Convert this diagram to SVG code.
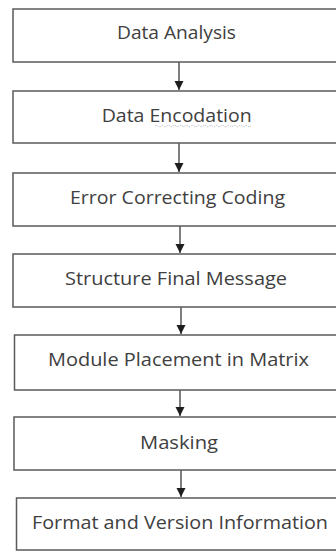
<svg xmlns="http://www.w3.org/2000/svg" width="336" height="552" viewBox="0 0 336 552">
<style>
.box{fill:#ffffff;stroke:#5a5a5a;stroke-width:1.5}
.lbl{font-family:"Open Sans","Noto Sans",sans-serif;font-size:19px;fill:#404040;text-anchor:middle}
.con{stroke:#3a3a3a;stroke-width:1.3;fill:none}
</style>
<defs>
<marker id="ah" markerWidth="9" markerHeight="10" refX="9" refY="4.5" orient="auto" markerUnits="userSpaceOnUse">
<path d="M0,0 L9,4.5 L0,9 z" fill="#1e1e1e"/>
</marker>
</defs>
<rect width="336" height="552" fill="#ffffff"/>
<g id="connectors">
<line class="con" x1="179" y1="62" x2="179" y2="90" marker-end="url(#ah)"/>
<line class="con" x1="179" y1="143" x2="179" y2="172" marker-end="url(#ah)"/>
<line class="con" x1="180" y1="226" x2="180" y2="253" marker-end="url(#ah)"/>
<line class="con" x1="181" y1="307" x2="181" y2="334" marker-end="url(#ah)"/>
<line class="con" x1="180" y1="390" x2="180" y2="416" marker-end="url(#ah)"/>
<line class="con" x1="181" y1="470" x2="181" y2="497" marker-end="url(#ah)"/>
</g>
<g id="node1"><rect class="box" x="13" y="9" width="330" height="53"/><text class="lbl" x="176.5" y="38.5" textLength="119" lengthAdjust="spacingAndGlyphs">Data Analysis</text></g>
<g id="node2"><rect class="box" x="13" y="91" width="330" height="52"/><text class="lbl" x="176.7" y="121.5" textLength="150" lengthAdjust="spacingAndGlyphs">Data Encodation</text>
<path d="M155,126 q1.5,-1.5 3,0 t3,0 t3,0 t3,0 t3,0 t3,0 t3,0 t3,0 t3,0 t3,0 t3,0 t3,0 t3,0 t3,0 t3,0 t3,0 t3,0 t3,0 t3,0 t3,0 t3,0 t3,0 t3,0 t3,0 t3,0 t3,0 t3,0 t3,0 t3,0 t3,0 t3,0 t3,0" fill="none" stroke="#9aa3b5" stroke-width="0.8" stroke-dasharray="1,1"/></g>
<g id="node3"><rect class="box" x="13" y="173" width="330" height="53"/><text class="lbl" x="177.5" y="204" textLength="215" lengthAdjust="spacingAndGlyphs">Error Correcting Coding</text></g>
<g id="node4"><rect class="box" x="13" y="254" width="330" height="53"/><text class="lbl" x="176" y="285" textLength="222" lengthAdjust="spacingAndGlyphs">Structure Final Message</text></g>
<g id="node5"><rect class="box" x="14.5" y="335" width="330" height="55"/><text class="lbl" x="178.5" y="366" textLength="261" lengthAdjust="spacingAndGlyphs">Module Placement in Matrix</text></g>
<g id="node6"><rect class="box" x="14" y="417" width="330" height="53"/><text class="lbl" x="179" y="449" textLength="78" lengthAdjust="spacingAndGlyphs">Masking</text></g>
<g id="node7"><rect class="box" x="16.5" y="498" width="330" height="52"/><text class="lbl" x="180" y="529" textLength="296" lengthAdjust="spacingAndGlyphs">Format and Version Information</text></g>
</svg>
